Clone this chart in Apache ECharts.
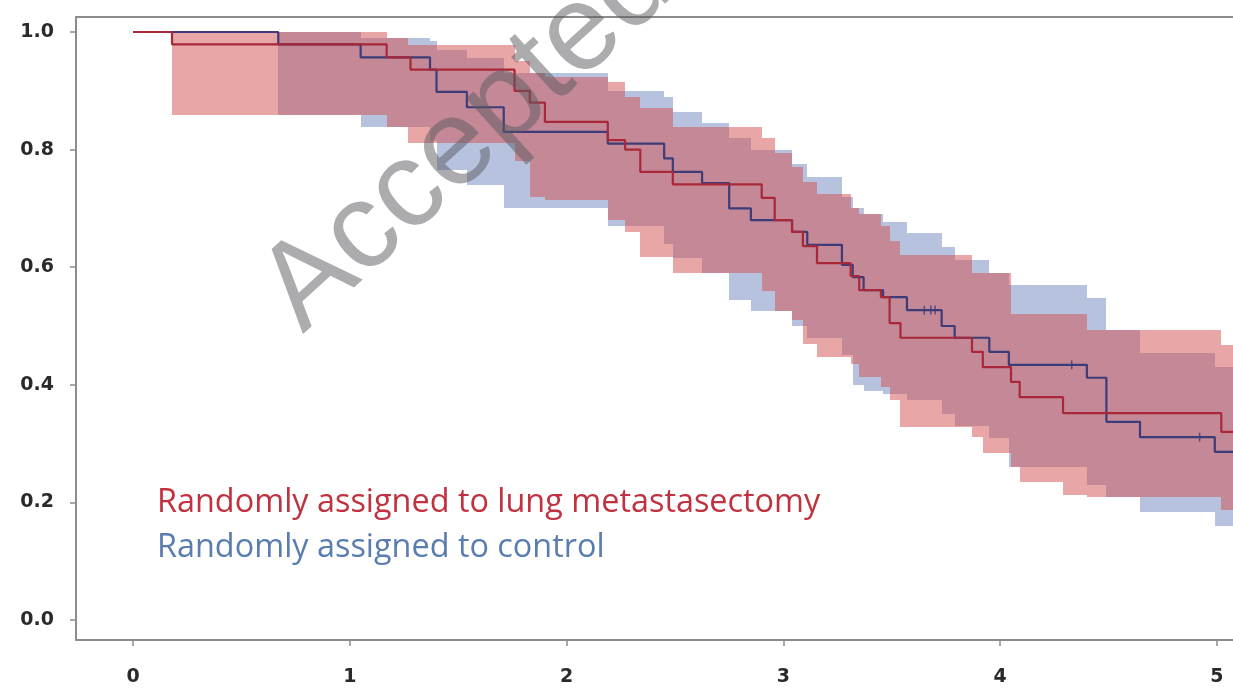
<!DOCTYPE html>
<html>
<head>
<meta charset="utf-8">
<script src="https://cdn.jsdelivr.net/npm/echarts@6/dist/echarts.min.js"></script>
<style>
  html, body { margin: 0; padding: 0; background: #fff; }
  #chart { width: 1233px; height: 688px; }
</style>
</head>
<body>
<div id="chart"></div>
<script>
// Kaplan-Meier estimates (years, survival probability), step-after
const kmTimeRed = [0, 0.18, 1.17, 1.28, 1.76, 1.83, 1.90, 2.19, 2.27, 2.34, 2.49, 2.90, 2.96, 3.04, 3.09, 3.155, 3.31, 3.35, 3.45, 3.49, 3.54, 3.87, 3.92, 4.05, 4.09, 4.29, 5.02, 5.10];
const kmSurvRed = [1.0, 0.979, 0.957, 0.936, 0.90, 0.88, 0.847, 0.816, 0.80, 0.762, 0.741, 0.718, 0.68, 0.66, 0.636, 0.607, 0.585, 0.561, 0.549, 0.505, 0.48, 0.456, 0.43, 0.405, 0.379, 0.352, 0.32, 0.32];

const kmTimeBlue = [0, 0.67, 1.05, 1.37, 1.40, 1.54, 1.71, 2.19, 2.45, 2.49, 2.625, 2.75, 2.85, 3.04, 3.11, 3.27, 3.32, 3.37, 3.46, 3.57, 3.73, 3.79, 3.95, 4.04, 4.40, 4.49, 4.645, 4.99, 5.10];
const kmSurvBlue = [1.0, 0.979, 0.957, 0.936, 0.898, 0.872, 0.83, 0.81, 0.785, 0.762, 0.743, 0.70, 0.68, 0.66, 0.638, 0.604, 0.583, 0.561, 0.549, 0.527, 0.50, 0.48, 0.456, 0.434, 0.412, 0.337, 0.311, 0.286, 0.286];

// 95% confidence bands (value holds from each time to the next)
const bandTimeRed = [0.18, 1.17, 1.27, 1.76, 1.83, 1.90, 2.19, 2.27, 2.34, 2.49, 2.90, 2.96, 3.04, 3.09, 3.155, 3.31, 3.35, 3.45, 3.49, 3.54, 3.87, 3.92, 4.05, 4.09, 4.29, 4.40, 5.02, 5.10];
const bandLowRed  = [0.859, 0.838, 0.812, 0.78, 0.72, 0.714, 0.68, 0.66, 0.617, 0.59, 0.56, 0.525, 0.51, 0.47, 0.447, 0.435, 0.413, 0.396, 0.374, 0.328, 0.311, 0.284, 0.26, 0.235, 0.213, 0.21, 0.187, 0.187];
const bandUpRed   = [1.0, 0.99, 0.978, 0.95, 0.93, 0.923, 0.915, 0.89, 0.87, 0.838, 0.82, 0.795, 0.77, 0.745, 0.725, 0.70, 0.69, 0.67, 0.645, 0.62, 0.59, 0.59, 0.52, 0.52, 0.52, 0.493, 0.468, 0.468];

const bandTimeBlue = [0.67, 1.05, 1.37, 1.40, 1.54, 1.71, 2.19, 2.45, 2.49, 2.625, 2.75, 2.85, 3.04, 3.11, 3.27, 3.32, 3.37, 3.46, 3.57, 3.73, 3.79, 3.95, 4.04, 4.40, 4.49, 4.645, 4.99, 5.10];
const bandLowBlue  = [0.859, 0.838, 0.815, 0.765, 0.74, 0.70, 0.67, 0.64, 0.615, 0.59, 0.545, 0.525, 0.50, 0.48, 0.45, 0.40, 0.39, 0.385, 0.374, 0.35, 0.33, 0.31, 0.26, 0.23, 0.21, 0.184, 0.16, 0.16];
const bandUpBlue   = [1.0, 0.99, 0.985, 0.97, 0.955, 0.93, 0.90, 0.89, 0.864, 0.845, 0.82, 0.80, 0.775, 0.753, 0.72, 0.70, 0.69, 0.677, 0.658, 0.635, 0.612, 0.59, 0.57, 0.548, 0.493, 0.454, 0.43, 0.43];

// censored observations in the control arm
const censorTimeBlue = [3.65, 3.68, 3.70, 4.33, 4.92];
const censorSurvBlue = [0.527, 0.527, 0.527, 0.434, 0.311];

const xTicks = [0, 1, 2, 3, 4, 5];
const yTicks = [0, 0.2, 0.4, 0.6, 0.8, 1.0];

const legendLines = ['Randomly assigned to lung metastasectomy', 'Randomly assigned to control'];

const RED_LINE = '#a8283a';
const BLUE_LINE = '#3d3c78';
const RED_BAND = 'rgba(209,77,77,0.5)';
const BLUE_BAND = 'rgba(111,133,189,0.5)';

const X_MIN = -0.263, X_MAX = 5.074;
const Y_MIN = -0.034, Y_MAX = 1.0255;

function pairs(xs, ys) { return xs.map((x, i) => [x, ys[i]]); }

// one row per interval: [start, end, lower, upper]
function bandRows(times, lo, up) {
  const rows = [];
  for (let i = 0; i < times.length - 1; i++) rows.push([times[i], times[i + 1], lo[i], up[i]]);
  return rows;
}

function bandSeries(name, times, lo, up, color, z) {
  return {
    name: name, type: 'custom', silent: true, clip: true, z: z,
    data: bandRows(times, lo, up),
    encode: { x: [0, 1], y: [2, 3] },
    renderItem: function (params, api) {
      const a = api.coord([api.value(0), api.value(3)]);
      const b = api.coord([api.value(1), api.value(2)]);
      const x0 = Math.round(a[0]), x1 = Math.round(b[0]);
      const y0 = Math.round(a[1]), y1 = Math.round(b[1]);
      return {
        type: 'rect',
        shape: { x: x0, y: y0, width: x1 - x0, height: y1 - y0 },
        style: { fill: color }
      };
    }
  };
}

const chart = echarts.init(document.getElementById('chart'), null, { renderer: 'canvas' });

const axisGray = '#8c8c8c';
const labelFont = { color: '#2a2a2a', fontFamily: 'DejaVu Sans', fontWeight: 'bold', fontSize: 19 };

chart.setOption({
  animation: false,
  backgroundColor: '#ffffff',
  grid: { left: 76, right: 0, top: 17, bottom: 48, show: false },
  xAxis: [
    {
      type: 'value', min: X_MIN, max: X_MAX,
      axisLine: { show: true, onZero: false, lineStyle: { color: axisGray, width: 2 } },
      axisTick: { show: true, customValues: xTicks, length: 6, lineStyle: { color: axisGray, width: 1.5 } },
      axisLabel: Object.assign({ customValues: xTicks, margin: 28 }, labelFont),
      splitLine: { show: false }
    },
    {
      // top frame line
      type: 'value', position: 'top', min: X_MIN, max: X_MAX,
      axisLine: { show: true, onZero: false, lineStyle: { color: axisGray, width: 2 } },
      axisTick: { show: false }, axisLabel: { show: false }, splitLine: { show: false }
    }
  ],
  yAxis: {
    type: 'value', min: Y_MIN, max: Y_MAX,
    axisLine: { show: true, onZero: false, lineStyle: { color: axisGray, width: 2 } },
    axisTick: { show: true, customValues: yTicks, length: 6, lineStyle: { color: axisGray, width: 1.5 } },
    axisLabel: Object.assign({ customValues: yTicks, margin: 22, formatter: v => v.toFixed(1) }, labelFont),
    splitLine: { show: false }
  },
  series: [
    bandSeries('control CI', bandTimeBlue, bandLowBlue, bandUpBlue, BLUE_BAND, 1),
    bandSeries('metastasectomy CI', bandTimeRed, bandLowRed, bandUpRed, RED_BAND, 2),
    {
      name: 'control', type: 'line', step: 'end', data: pairs(kmTimeBlue, kmSurvBlue),
      symbol: 'none', lineStyle: { color: BLUE_LINE, width: 2.2 }, z: 3
    },
    {
      name: 'metastasectomy', type: 'line', step: 'end', data: pairs(kmTimeRed, kmSurvRed),
      symbol: 'none', lineStyle: { color: RED_LINE, width: 2.2 }, z: 4
    },
    {
      name: 'censored', type: 'scatter', data: pairs(censorTimeBlue, censorSurvBlue),
      symbol: 'rect', symbolSize: [1.5, 9], itemStyle: { color: BLUE_LINE }, z: 5
    }
  ],
  graphic: [
    {
      type: 'text', left: 157, top: 487, z: 10,
      style: { text: legendLines[0], fill: '#c0323f', font: '32.4px "Open Sans"' }
    },
    {
      type: 'text', left: 157, top: 532, z: 10,
      style: { text: legendLines[1], fill: '#5a7db0', font: '32.4px "Open Sans"' }
    },
    {
      type: 'text', x: 468, y: 138, rotation: 0.74, z: 20,
      style: {
        text: 'Accepted', fill: 'rgba(90,90,95,0.5)',
        font: '122px "Liberation Sans"', align: 'center', verticalAlign: 'middle'
      }
    }
  ]
});
</script>
</body>
</html>
